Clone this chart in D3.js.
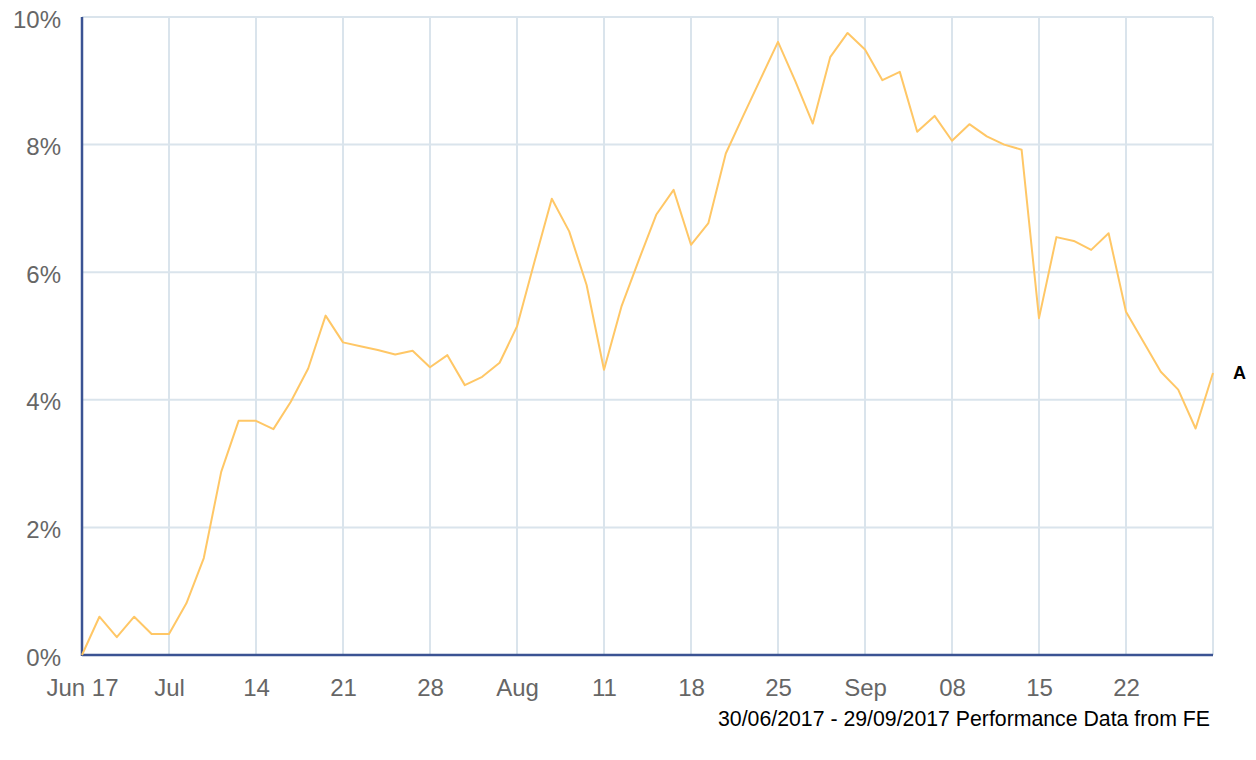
<!DOCTYPE html>
<html>
<head>
<meta charset="utf-8">
<script src="https://cdn.jsdelivr.net/npm/d3@7"></script>
<style>
  body { margin: 0; background: #fff; }
  svg { display: block; font-family: "Liberation Sans", Arial, sans-serif; }
</style>
</head>
<body>
<svg id="chart"></svg>
<script>
// daily (business day) cumulative performance, %
const values = [
  0, 0.60, 0.28, 0.60, 0.33, 0.33, 0.81, 1.52, 2.87, 3.67,
  3.67, 3.54, 3.97, 4.49, 5.32, 4.90, 4.84, 4.78, 4.71, 4.77,
  4.51, 4.70, 4.23, 4.36, 4.58, 5.15, 6.16, 7.15, 6.64, 5.80,
  4.47, 5.46, 6.19, 6.90, 7.29, 6.43, 6.77, 7.86, 8.45, 9.03,
  9.61, 8.99, 8.33, 9.37, 9.75, 9.49, 9.01, 9.14, 8.20, 8.45,
  8.06, 8.32, 8.13, 8.00, 7.92, 5.28, 6.55, 6.49, 6.35, 6.61,
  5.38, 4.91, 4.44, 4.16, 3.55, 4.42
]
// weekly ticks (every 5 trading days)
const xTickIndex = [0, 5, 10, 15, 20, 25, 30, 35, 40, 45, 50, 55, 60, 65]
const xTickLabels = ['Jun 17', 'Jul', '14', '21', '28', 'Aug', '11', '18', '25', 'Sep', '08', '15', '22', '']
const yTicks = [0, 2, 4, 6, 8, 10]
const seriesName = 'A'
const footer = '30/06/2017 - 29/09/2017 Performance Data from FE'

const width = 1256
const height = 760
const margin = { top: 17, right: 43, bottom: 105, left: 82 }

const svg = d3.select('#chart').attr('width', width).attr('height', height)

const x = d3.scaleLinear()
  .domain([0, values.length - 1])
  .range([margin.left, width - margin.right])

const y = d3.scaleLinear()
  .domain([0, 10])
  .range([height - margin.bottom, margin.top])

// grid
svg.append('g')
  .selectAll('line')
  .data(xTickIndex)
  .enter().append('line')
  .attr('x1', d => x(d)).attr('x2', d => x(d))
  .attr('y1', y(10)).attr('y2', y(0))
  .attr('stroke', '#dae4ec')
  .attr('stroke-width', 2)

svg.append('g')
  .selectAll('line')
  .data(yTicks)
  .enter().append('line')
  .attr('x1', x(0)).attr('x2', x(values.length - 1))
  .attr('y1', d => y(d)).attr('y2', d => y(d))
  .attr('stroke', '#dae4ec')
  .attr('stroke-width', 2)

// axes
const xAxis = d3.axisBottom(x)
  .tickValues(xTickIndex)
  .tickFormat((d, i) => xTickLabels[i])
  .tickSize(0)
  .tickPadding(24)

const yAxis = d3.axisLeft(y)
  .tickValues(yTicks)
  .tickFormat(d => d + '%')
  .tickSize(0)
  .tickPadding(21)

const gx = svg.append('g')
  .attr('transform', `translate(0,${y(0)})`)
  .call(xAxis)
gx.select('.domain').remove()
gx.selectAll('text')
  .attr('fill', '#666')
  .style('font-size', '24px')

const gy = svg.append('g')
  .attr('transform', `translate(${x(0)},0)`)
  .call(yAxis)
gy.select('.domain').remove()
gy.selectAll('text')
  .attr('fill', '#666')
  .attr('dy', '0.42em')
  .style('font-size', '24px')

svg.append('line')
  .attr('x1', x(0)).attr('x2', x(0))
  .attr('y1', y(10)).attr('y2', y(0) + 1)
  .attr('stroke', '#3b5393')
  .attr('stroke-width', 2.5)

svg.append('line')
  .attr('x1', x(0)).attr('x2', x(values.length - 1))
  .attr('y1', y(0)).attr('y2', y(0))
  .attr('stroke', '#3b5393')
  .attr('stroke-width', 2.5)

// series
const line = d3.line()
  .x((d, i) => x(i))
  .y(d => y(d))

svg.append('path')
  .datum(values)
  .attr('d', line)
  .attr('fill', 'none')
  .attr('stroke', '#ffc766')
  .attr('stroke-width', 2)
  .attr('stroke-linejoin', 'round')

svg.append('text')
  .attr('x', x(values.length - 1) + 20)
  .attr('y', y(values[values.length - 1]))
  .attr('dy', '0.35em')
  .attr('font-weight', 'bold')
  .attr('font-size', 18)
  .attr('fill', '#000')
  .text(seriesName)

svg.append('text')
  .attr('x', x(values.length - 1) - 3)
  .attr('y', 726)
  .attr('text-anchor', 'end')
  .attr('font-size', 21.3)
  .attr('textLength', 492)
  .attr('fill', '#000')
  .text(footer)
</script>
</body>
</html>
